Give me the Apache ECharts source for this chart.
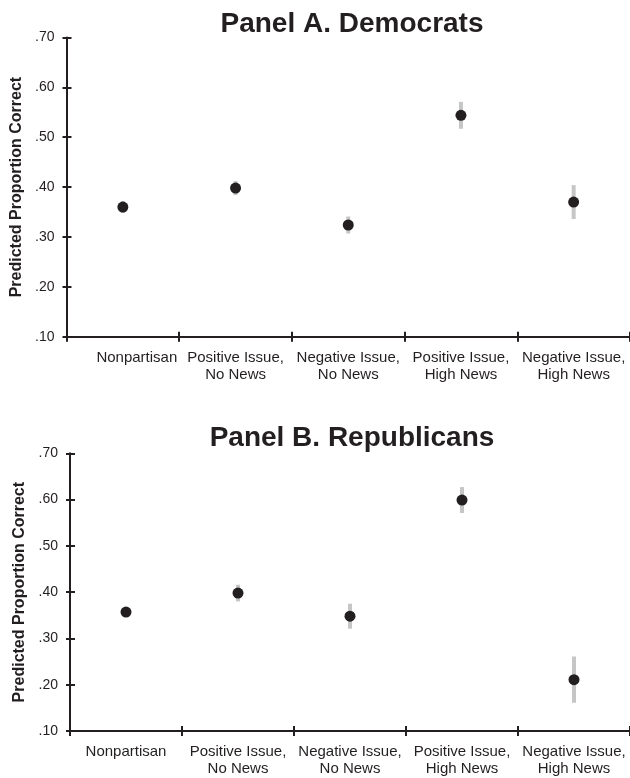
<!DOCTYPE html>
<html>
<head>
<meta charset="utf-8">
<script src="https://cdn.jsdelivr.net/npm/echarts@6/dist/echarts.min.js"></script>
<style>
html,body{margin:0;padding:0;background:#fff;}
#chart{width:630px;height:778px;}
</style>
</head>
<body>
<div id="chart"></div>
<script>
// ---- data ----
const categories = ['Nonpartisan', 'Positive Issue,\nNo News', 'Negative Issue,\nNo News', 'Positive Issue,\nHigh News', 'Negative Issue,\nHigh News'];
const demMean = [0.360, 0.398, 0.324, 0.544, 0.370];
const demErr  = [0.012, 0.014, 0.017, 0.027, 0.034];
const repMean = [0.357, 0.398, 0.348, 0.599, 0.211];
const repErr  = [0.010, 0.018, 0.027, 0.028, 0.050];
const yTicks = [0.1, 0.2, 0.3, 0.4, 0.5, 0.6, 0.7];
const titles = ['Panel A. Democrats', 'Panel B. Republicans'];
const yName = 'Predicted Proportion Correct';

const INK = '#231f20';
const FONT = '"Liberation Sans", Arial, Helvetica, sans-serif';

const grids = [
  {left: 66.5, top: 37.5, width: 563.5, height: 299.2},
  {left: 70, top: 453.3, width: 562.5, height: 280}
];

function fmt(v){ return v.toFixed(2).replace(/^0/, ''); }

const xAxes = [], yAxes = [], series = [];
grids.forEach((g, gi) => {
  const catData = categories.map((c, i) => {
    if (gi === 0 && i === 0) return {value: c, textStyle: {padding: [0, 0, 0, 28]}};
    return c;
  });
  xAxes.push({
    type: 'category', gridIndex: gi, data: catData, position: 'bottom',
    axisLine: {show: true, lineStyle: {color: INK, width: 2}},
    axisTick: {show: true, inside: false, length: 5, lineStyle: {color: INK, width: 2}},
    axisLabel: {show: true, color: INK, fontFamily: FONT, fontSize: 15, lineHeight: 17.5, margin: 12, interval: 0},
    splitLine: {show: false}
  });
  xAxes.push({
    type: 'category', gridIndex: gi, data: categories, position: 'bottom',
    axisLine: {show: false},
    axisTick: {show: true, inside: true, length: 5, lineStyle: {color: INK, width: 2}},
    axisLabel: {show: false}, splitLine: {show: false}
  });
  yAxes.push({
    type: 'value', gridIndex: gi, position: 'left',
    min: yTicks[0], max: yTicks[yTicks.length - 1], interval: 0.1,
    axisLine: {show: true, lineStyle: {color: INK, width: 2}},
    axisTick: {show: true, inside: false, length: 4, lineStyle: {color: INK, width: 2}},
    axisLabel: {color: INK, fontFamily: FONT, fontSize: 14, margin: 12, formatter: fmt},
    splitLine: {show: false},
    name: yName, nameLocation: 'middle', nameGap: 41, nameRotate: 90,
    nameTextStyle: {color: INK, fontFamily: FONT, fontSize: 16, fontWeight: 'bold'}
  });
  yAxes.push({
    type: 'value', gridIndex: gi, position: 'left',
    min: yTicks[0], max: yTicks[yTicks.length - 1], interval: 0.1,
    axisLine: {show: false},
    axisTick: {show: true, inside: true, length: 5, lineStyle: {color: INK, width: 2}},
    axisLabel: {show: false}, splitLine: {show: false}
  });
});

const panels = [[demMean, demErr], [repMean, repErr]];
panels.forEach(([mean, err], gi) => {
  series.push({
    type: 'custom', xAxisIndex: gi * 2, yAxisIndex: gi * 2, z: 2,
    data: mean.map((m, i) => [i, m - err[i], m + err[i]]),
    renderItem: (params, api) => {
      const x = api.value(0);
      const p1 = api.coord([x, api.value(1)]);
      const p2 = api.coord([x, api.value(2)]);
      return {type: 'line', shape: {x1: p1[0], y1: p1[1], x2: p2[0], y2: p2[1]},
        style: {stroke: '#c6c6c6', lineWidth: 4}};
    },
    silent: true
  });
  series.push({
    type: 'scatter', xAxisIndex: gi * 2, yAxisIndex: gi * 2, z: 3,
    data: mean.map((m, i) => [i, m]),
    symbol: 'circle', symbolSize: 11,
    itemStyle: {color: INK, opacity: 1},
    silent: true
  });
});

const chart = echarts.init(document.getElementById('chart'), null, {renderer: 'canvas'});
chart.setOption({
  animation: false,
  backgroundColor: '#fff',
  title: [
    {text: titles[0], left: 347, top: 5, textAlign: 'center',
     textStyle: {color: INK, fontFamily: FONT, fontSize: 28, fontWeight: 'bold'}},
    {text: titles[1], left: 347, top: 419, textAlign: 'center',
     textStyle: {color: INK, fontFamily: FONT, fontSize: 28, fontWeight: 'bold'}}
  ],
  grid: grids,
  xAxis: xAxes,
  yAxis: yAxes,
  series: series
});
</script>
</body>
</html>
